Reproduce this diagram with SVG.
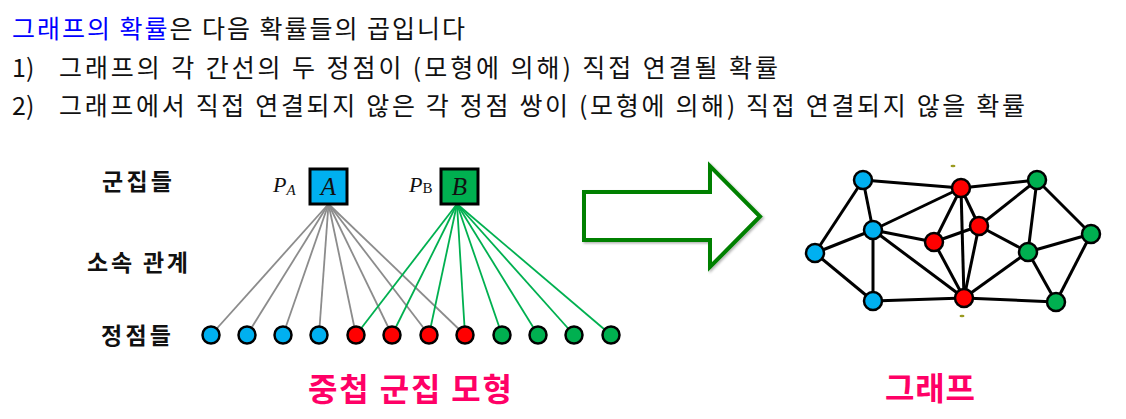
<svg xmlns="http://www.w3.org/2000/svg" width="1126" height="419" viewBox="0 0 1126 419">
<defs>
<style>
.t{font-family:"Noto Sans CJK KR","Noto Sans",sans-serif;font-size:25px;fill:#111}
.lbl{font-family:"Noto Sans CJK KR",sans-serif;font-size:23px;font-weight:bold;fill:#111}
.ttl{font-family:"Noto Sans CJK KR",sans-serif;font-size:32px;font-weight:bold;fill:#FF0066}
.math{font-family:"Liberation Serif",serif;font-style:italic;fill:#111}
.v{stroke:#000;stroke-width:2.5}
.b{fill:#00B0F0}.r{fill:#FF0000}.g{fill:#00B050}
.ga{stroke:#8c8c8c;stroke-width:1.8}
.gb{stroke:#00B050;stroke-width:1.8}
.e{stroke:#000;stroke-width:3;fill:none}
</style>
<filter id="sh" x="-10%" y="-10%" width="130%" height="130%"><feDropShadow dx="1.5" dy="1.5" stdDeviation="1.2" flood-color="#000" flood-opacity="0.3"/></filter>
</defs>

<g id="header">
<text class="t" x="12" y="38" textLength="453" lengthAdjust="spacing"><tspan fill="#0000FF">그래프의 확률</tspan>은 다음 확률들의 곱입니다</text>
<text class="t" x="12" y="77">1)</text>
<text class="t" x="59" y="77" textLength="719" lengthAdjust="spacing">그래프의 각 간선의 두 정점이 (모형에 의해) 직접 연결될 확률</text>
<text class="t" x="12" y="115">2)</text>
<text class="t" x="59" y="115" textLength="966" lengthAdjust="spacing">그래프에서 직접 연결되지 않은 각 정점 쌍이 (모형에 의해) 직접 연결되지 않을 확률</text>
</g>

<g id="row-labels">
<text class="lbl" x="102" y="190" textLength="70" lengthAdjust="spacing">군집들</text>
<text class="lbl" x="87" y="271" textLength="101" lengthAdjust="spacing">소속 관계</text>
<text class="lbl" x="101" y="344" textLength="70" lengthAdjust="spacing">정점들</text>
</g>

<g id="memberships">
<line class="ga" x1="328.5" y1="204" x2="211" y2="335"/>
<line class="ga" x1="328.5" y1="204" x2="247" y2="335"/>
<line class="ga" x1="328.5" y1="204" x2="283" y2="335"/>
<line class="ga" x1="328.5" y1="204" x2="319" y2="335"/>
<line class="ga" x1="328.5" y1="204" x2="356" y2="335"/>
<line class="ga" x1="328.5" y1="204" x2="392" y2="335"/>
<line class="ga" x1="328.5" y1="204" x2="429" y2="335"/>
<line class="ga" x1="328.5" y1="204" x2="465" y2="335"/>
<line class="gb" x1="457" y1="204" x2="356" y2="335"/>
<line class="gb" x1="457" y1="204" x2="392" y2="335"/>
<line class="gb" x1="457" y1="204" x2="429" y2="335"/>
<line class="gb" x1="457" y1="204" x2="465" y2="335"/>
<line class="gb" x1="457" y1="204" x2="502" y2="335"/>
<line class="gb" x1="457" y1="204" x2="538" y2="335"/>
<line class="gb" x1="457" y1="204" x2="574" y2="335"/>
<line class="gb" x1="457" y1="204" x2="611" y2="335"/>
</g>

<g id="cluster-A">
<rect x="310" y="169" width="37" height="35" class="b" stroke="#000" stroke-width="3"/>
<text class="math" x="328.5" y="195" font-size="25" text-anchor="middle">A</text>
<text class="math" x="273" y="192" font-size="22">P<tspan font-size="15" dy="3">A</tspan></text>
</g>
<g id="cluster-B">
<rect x="441" y="169" width="37" height="35" class="g" stroke="#000" stroke-width="3"/>
<text class="math" x="459.5" y="195" font-size="25" text-anchor="middle">B</text>
<text class="math" x="409" y="192" font-size="22">P<tspan font-size="15" dy="1" font-style="normal">B</tspan></text>
</g>

<g id="vertices">
<circle class="v b" cx="211" cy="335" r="8.5"/>
<circle class="v b" cx="247" cy="335" r="8.5"/>
<circle class="v b" cx="283" cy="335" r="8.5"/>
<circle class="v b" cx="319" cy="335" r="8.5"/>
<circle class="v r" cx="356" cy="335" r="8.5"/>
<circle class="v r" cx="392" cy="335" r="8.5"/>
<circle class="v r" cx="429" cy="335" r="8.5"/>
<circle class="v r" cx="465" cy="335" r="8.5"/>
<circle class="v g" cx="502" cy="335" r="8.5"/>
<circle class="v g" cx="538" cy="335" r="8.5"/>
<circle class="v g" cx="574" cy="335" r="8.5"/>
<circle class="v g" cx="611" cy="335" r="8.5"/>
</g>

<g id="title-model">
<text class="ttl" x="308" y="401" textLength="204" lengthAdjust="spacing">중첩 군집 모형</text>
</g>

<g id="arrow">
<path d="M584,192 H710 V166 L760,216.5 L710,267 V240 H584 Z" fill="#fff" stroke="#008000" stroke-width="4" filter="url(#sh)"/>
</g>

<g id="graph-edges">
<line class="e" x1="863" y1="180" x2="873" y2="230"/>
<line class="e" x1="863" y1="180" x2="961" y2="188"/>
<line class="e" x1="863" y1="180" x2="815" y2="253"/>
<line class="e" x1="815" y1="253" x2="873" y2="230"/>
<line class="e" x1="815" y1="253" x2="873" y2="301"/>
<line class="e" x1="873" y1="230" x2="961" y2="188"/>
<line class="e" x1="873" y1="230" x2="934" y2="242"/>
<line class="e" x1="873" y1="230" x2="873" y2="301"/>
<line class="e" x1="873" y1="230" x2="964" y2="298"/>
<line class="e" x1="873" y1="301" x2="964" y2="298"/>
<line class="e" x1="961" y1="188" x2="934" y2="242"/>
<line class="e" x1="961" y1="188" x2="964" y2="298"/>
<line class="e" x1="961" y1="188" x2="979" y2="226"/>
<line class="e" x1="961" y1="188" x2="1037" y2="180"/>
<line class="e" x1="979" y1="226" x2="934" y2="242"/>
<line class="e" x1="979" y1="226" x2="964" y2="298"/>
<line class="e" x1="979" y1="226" x2="1037" y2="180"/>
<line class="e" x1="979" y1="226" x2="1028" y2="252"/>
<line class="e" x1="934" y1="242" x2="964" y2="298"/>
<line class="e" x1="964" y1="298" x2="1028" y2="252"/>
<line class="e" x1="964" y1="298" x2="1056" y2="302"/>
<line class="e" x1="1037" y1="180" x2="1028" y2="252"/>
<line class="e" x1="1037" y1="180" x2="1091" y2="234"/>
<line class="e" x1="1028" y1="252" x2="1091" y2="234"/>
<line class="e" x1="1028" y1="252" x2="1056" y2="302"/>
<line class="e" x1="1091" y1="234" x2="1056" y2="302"/>
</g>

<g id="graph-nodes">
<circle class="v b" cx="863" cy="180" r="9"/>
<circle class="v b" cx="873" cy="230" r="9"/>
<circle class="v b" cx="815" cy="253" r="9"/>
<circle class="v b" cx="873" cy="301" r="9"/>
<circle class="v r" cx="961" cy="188" r="9"/>
<circle class="v r" cx="979" cy="226" r="9"/>
<circle class="v r" cx="934" cy="242" r="9"/>
<circle class="v r" cx="964" cy="298" r="9"/>
<circle class="v g" cx="1037" cy="180" r="9"/>
<circle class="v g" cx="1091" cy="234" r="9"/>
<circle class="v g" cx="1028" cy="252" r="9"/>
<circle class="v g" cx="1056" cy="302" r="9"/>
<ellipse cx="953" cy="166" rx="2.5" ry="1.2" fill="#9a9a20"/>
<ellipse cx="962" cy="316" rx="2.5" ry="1.2" fill="#9a9a20"/>
</g>

<g id="title-graph">
<text class="ttl" x="885" y="400" textLength="90" lengthAdjust="spacing">그래프</text>
</g>
</svg>
